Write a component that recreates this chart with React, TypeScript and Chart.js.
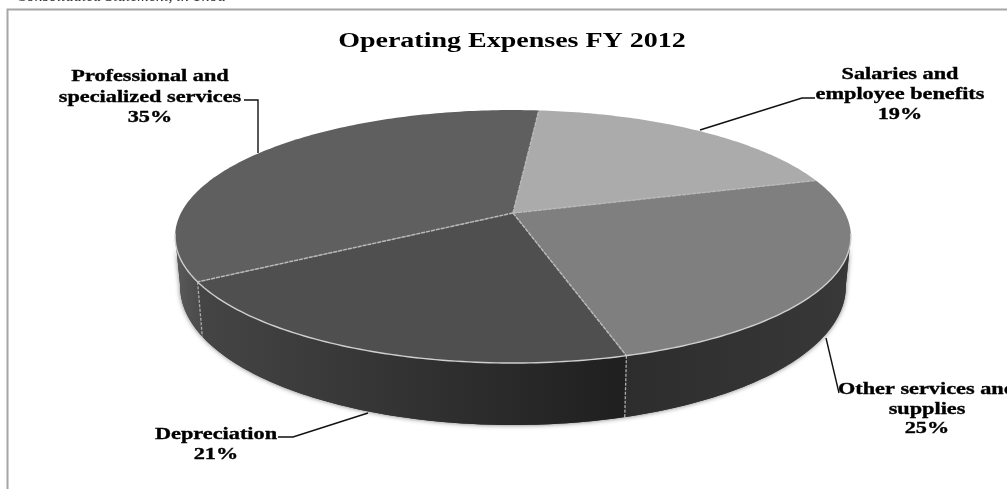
import React, { useEffect, useRef } from "react";
import { Chart, registerables } from "chart.js";

Chart.register(...registerables);

const categories = [
  "Salaries and employee benefits",
  "Other services and supplies",
  "Depreciation",
  "Professional and specialized services",
];
const shares = [19, 25, 21, 35];
const faceColors = ["#ababab", "#7f7f7f", "#4f4f4f", "#5f5f5f"];
const sideRamps: [string, string][] = [
  ["#a0a0a0", "#a0a0a0"],
  ["#2d2d2d", "#383838"],
  ["#454545", "#1f1f1f"],
  ["#5a5a5a", "#4c4c4c"],
];
const titleText = "Operating Expenses FY 2012";

const labelLines = [
  ["Salaries and", "employee benefits"],
  ["Other services and", "supplies"],
  ["Depreciation"],
  ["Professional and", "specialized services"],
];

// Label anchors: centre of the text block, the y of its first line and line pitch.
const labelAnchors = [
  { x: 900, y: 75, pitch: 20 },
  { x: 927, y: 390, pitch: 19.5 },
  { x: 216, y: 435, pitch: 19.5 },
  { x: 150, y: 77, pitch: 20.5 },
];
const labelWiden = 1.31;
const titleWiden = 1.4;
const titleCentre = 512;

// Leader polylines run from the text to the rim of the pie.
const leaders = [
  [[815, 98], [802, 98], [700, 130]],
  [[839, 393], [826, 338]],
  [[278, 437], [293, 437], [368, 413]],
  [[244, 100], [258, 100], [258, 153]],
];

// Perspective mapping of the unit circle onto the tilted pie top.
const hub = { x: 513, y: 213 };
const lens = { a: 332, b: 122.1, k: -0.186 };
const rimVisible = [0.183, Math.PI - 0.183];

const project = (t: number) => {
  const u = Math.cos(t);
  const v = Math.sin(t);
  const w = 1 + lens.k * v;
  return { x: hub.x + (lens.a * u) / w, y: hub.y + (lens.b * v) / w };
};

const lowerRim = (t: number) => {
  const p = project(t);
  const v = Math.sin(t);
  return { x: hub.x + (p.x - hub.x) * 0.985, y: p.y + 47 + 15 * v };
};

const sample = (from: number, to: number) => {
  const n = Math.max(2, Math.ceil(Math.abs(to - from) * 60));
  return Array.from({ length: n + 1 }, (_, i) => from + ((to - from) * i) / n);
};

const tiltedPie = {
  id: "tiltedPie",
  beforeDatasetsDraw(chart: any) {
    // The title has been painted by now; the horizontal stretch ends with it.
    chart.ctx.setTransform(1, 0, 0, 1, 0, 0);
  },
  beforeDatasetDraw(chart: any) {
    const ctx: CanvasRenderingContext2D = chart.ctx;
    const arcs = chart.getDatasetMeta(0).data;
    const tau = Math.PI * 2;

    ctx.save();
    // Soft shadow hugging the base of the drum.
    ctx.save();
    ctx.shadowColor = "rgba(0,0,0,0.55)";
    ctx.shadowBlur = 5;
    ctx.fillStyle = "#333";
    ctx.beginPath();
    sample(rimVisible[0], rimVisible[1]).forEach((t, i) => {
      const p = lowerRim(t);
      if (i === 0) ctx.moveTo(p.x, p.y);
      else ctx.lineTo(p.x, p.y);
    });
    sample(rimVisible[1], rimVisible[0]).forEach((t) => {
      const p = project(t);
      ctx.lineTo(p.x, p.y);
    });
    ctx.closePath();
    ctx.fill();
    ctx.restore();

    // Side wall of each slice.
    arcs.forEach((arc: any, i: number) => {
      let s = arc.startAngle;
      let e = arc.endAngle;
      while (s > rimVisible[1]) {
        s -= tau;
        e -= tau;
      }
      const from = Math.max(s, rimVisible[0]);
      const to = Math.min(e, rimVisible[1]);
      if (to <= from) return;
      const a = project(from);
      const b = project(to);
      const grad = ctx.createLinearGradient(Math.min(a.x, b.x), 0, Math.max(a.x, b.x), 0);
      grad.addColorStop(0, sideRamps[i][0]);
      grad.addColorStop(1, sideRamps[i][1]);
      ctx.fillStyle = grad;
      ctx.beginPath();
      sample(from, to).forEach((t, n) => {
        const p = project(t);
        if (n === 0) ctx.moveTo(p.x, p.y);
        else ctx.lineTo(p.x, p.y);
      });
      sample(to, from).forEach((t) => {
        const p = lowerRim(t);
        ctx.lineTo(p.x, p.y);
      });
      ctx.closePath();
      ctx.fill();
    });

    // Dashed seams where two slices meet on the wall.
    ctx.strokeStyle = "#adadad";
    ctx.lineWidth = 1.3;
    ctx.setLineDash([3, 1.5]);
    arcs.forEach((arc: any) => {
      const t = arc.startAngle;
      const norm = ((t % tau) + tau) % tau;
      if (norm > rimVisible[0] && norm < rimVisible[1]) {
        const a = project(norm);
        const b = lowerRim(norm);
        ctx.beginPath();
        ctx.moveTo(a.x, a.y);
        ctx.lineTo(b.x, b.y);
        ctx.stroke();
      }
    });
    ctx.setLineDash([]);

    // Top face of each slice, from the angles the pie controller computed.
    arcs.forEach((arc: any) => {
      ctx.beginPath();
      ctx.moveTo(hub.x, hub.y);
      sample(arc.startAngle, arc.endAngle).forEach((t) => {
        const p = project(t);
        ctx.lineTo(p.x, p.y);
      });
      ctx.closePath();
      ctx.fillStyle = arc.options.backgroundColor;
      ctx.fill();
    });

    // Light seams between slices.
    ctx.strokeStyle = "#b9b9b9";
    ctx.lineWidth = 1.5;
    ctx.setLineDash([4, 1]);
    arcs.forEach((arc: any) => {
      const p = project(arc.startAngle);
      ctx.beginPath();
      ctx.moveTo(hub.x, hub.y);
      ctx.lineTo(p.x, p.y);
      ctx.stroke();
    });
    ctx.setLineDash([]);

    // Bright rim along the front edge of the top face.
    ctx.strokeStyle = "#cfcfcf";
    ctx.lineWidth = 1.4;
    ctx.beginPath();
    sample(rimVisible[0] - 0.02, rimVisible[1] + 0.02).forEach((t, i) => {
      const p = project(t);
      if (i === 0) ctx.moveTo(p.x, p.y);
      else ctx.lineTo(p.x, p.y);
    });
    ctx.stroke();
    ctx.restore();
    return false;
  },
  afterDraw(chart: any) {
    const ctx: CanvasRenderingContext2D = chart.ctx;
    ctx.save();

    // Cropped caption above the frame.
    ctx.font = "italic 16px 'Liberation Serif'";
    ctx.fillStyle = "#333";
    ctx.textAlign = "left";
    ctx.textBaseline = "alphabetic";
    ctx.fillText("Consolidated Statement, in Thou", 16, 1);

    // Leader lines.
    ctx.strokeStyle = "#111";
    ctx.lineWidth = 1.4;
    leaders.forEach((pts) => {
      ctx.beginPath();
      pts.forEach(([x, y], i) => (i === 0 ? ctx.moveTo(x, y) : ctx.lineTo(x, y)));
      ctx.stroke();
    });

    // Slice labels: name lines followed by the percentage.
    ctx.fillStyle = "#000";
    ctx.strokeStyle = "#000";
    ctx.lineWidth = 0.35;
    ctx.textAlign = "center";
    ctx.textBaseline = "middle";
    ctx.font = "bold 17px 'Liberation Serif'";
    labelLines.forEach((lines, i) => {
      const a = labelAnchors[i];
      [...lines, `${shares[i]}%`].forEach((line, n) => {
        ctx.save();
        ctx.translate(a.x, a.y + n * a.pitch);
        ctx.scale(labelWiden, 1);
        ctx.fillText(line, 0, 0);
        ctx.strokeText(line, 0, 0);
        ctx.restore();
      });
    });
    ctx.restore();
  },
};

const frame = {
  id: "frame",
  beforeDraw(chart: any) {
    const ctx: CanvasRenderingContext2D = chart.ctx;
    ctx.save();
    ctx.fillStyle = "#fff";
    ctx.fillRect(0, 0, chart.width, chart.height);
    ctx.strokeStyle = "#a6a6a6";
    ctx.lineWidth = 2;
    ctx.beginPath();
    ctx.moveTo(7.5, 495);
    ctx.lineTo(7.5, 9.5);
    ctx.lineTo(1007, 9.5);
    ctx.stroke();
    ctx.restore();
    // The title box is painted next, before the datasets: widen it about its centre.
    ctx.translate(titleCentre, 0);
    ctx.scale(titleWiden, 1);
    ctx.translate(-titleCentre, 0);
  },
};

export default function App() {
  const ref = useRef<HTMLCanvasElement>(null);
  useEffect(() => {
    const chart = new Chart(ref.current as HTMLCanvasElement, {
      type: "pie",
      data: {
        labels: categories,
        datasets: [{ data: shares, backgroundColor: faceColors, borderWidth: 0 }],
      },
      options: {
        responsive: false,
        animation: false,
        rotation: 5.3,
        layout: { padding: { left: 17, right: 0, top: 0, bottom: 0 } },
        plugins: {
          legend: { display: false },
          tooltip: { enabled: false },
          title: {
            display: true,
            text: titleText,
            color: "#000",
            font: { family: "'Liberation Serif'", size: 20, weight: "bold" },
            padding: { top: 30, bottom: 0 },
          },
        },
      },
      plugins: [frame, tiltedPie],
    } as any);
    return () => chart.destroy();
  }, []);
  return (
    <div style={{ position: "fixed", left: 0, top: 0, width: 1007, height: 489, background: "#fff" }}>
      <canvas ref={ref} width={1007} height={489} style={{ display: "block" }} />
    </div>
  );
}
